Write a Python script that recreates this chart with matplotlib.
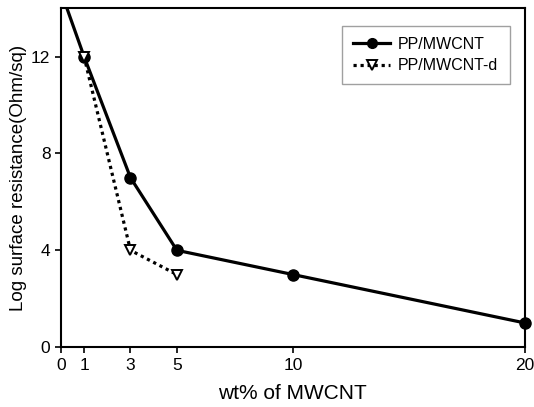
import matplotlib.pyplot as plt
from matplotlib.lines import Line2D

plt.rcParams['font.family'] = ['Liberation Sans', 'DejaVu Sans']

# data
wt = [0, 1, 3, 5, 10, 20]
pp_mwcnt = [14.7, 12, 7, 4, 3, 1]
wt_d = [1, 3, 5]
pp_mwcnt_d = [12, 4, 3]
xticks = [0, 1, 3, 5, 10, 20]
yticks = [0, 4, 8, 12]

fig = plt.figure(figsize=(5.34, 4.07), dpi=100)
ax = fig.add_axes([0.114, 0.147, 0.869, 0.833])

# solid line is clipped at the top, markers are not (last one sits on the spine)
ax.plot(wt, pp_mwcnt, color="black", lw=2.3)
ax.plot(wt[1:], pp_mwcnt[1:], ls="none", color="black", marker="o", ms=8,
        clip_on=False, zorder=3)
ax.plot(wt_d, pp_mwcnt_d, color="black", lw=2.3, ls=(0, (1, 1.2)),
        marker="v", ms=7.5, mfc="white", mew=1.4, zorder=4)
ax.set_xlim(0, 20)
ax.set_ylim(0, 14)
ax.set_xticks(xticks)
ax.set_yticks(yticks)
ax.tick_params(direction="out", length=4, width=1.2, labelsize=12.5)
for s in ax.spines.values():
    s.set_linewidth(1.5)

ax.set_xlabel("wt% of MWCNT", fontsize=15, labelpad=8)
ax.set_ylabel("Log surface resistance(Ohm/sq)", fontsize=13.5, labelpad=3)

handles = [
    Line2D([], [], color="black", lw=2.3, marker="o", ms=7),
    Line2D([], [], color="black", lw=2.3, ls=(0, (1, 1.2)), marker="v",
           ms=7, mfc="white", mew=1.4),
]
leg = ax.legend(handles, ["PP/MWCNT", "PP/MWCNT-d"], loc="upper right",
                bbox_to_anchor=(0.984, 0.972), fontsize=11.5,
                frameon=True, fancybox=False, handlelength=2.3,
                borderpad=0.7, labelspacing=0.4, handletextpad=0.5)
leg.get_frame().set_edgecolor("#888888")
leg.get_frame().set_linewidth(1.0)

plt.savefig("out.png", dpi=100)
